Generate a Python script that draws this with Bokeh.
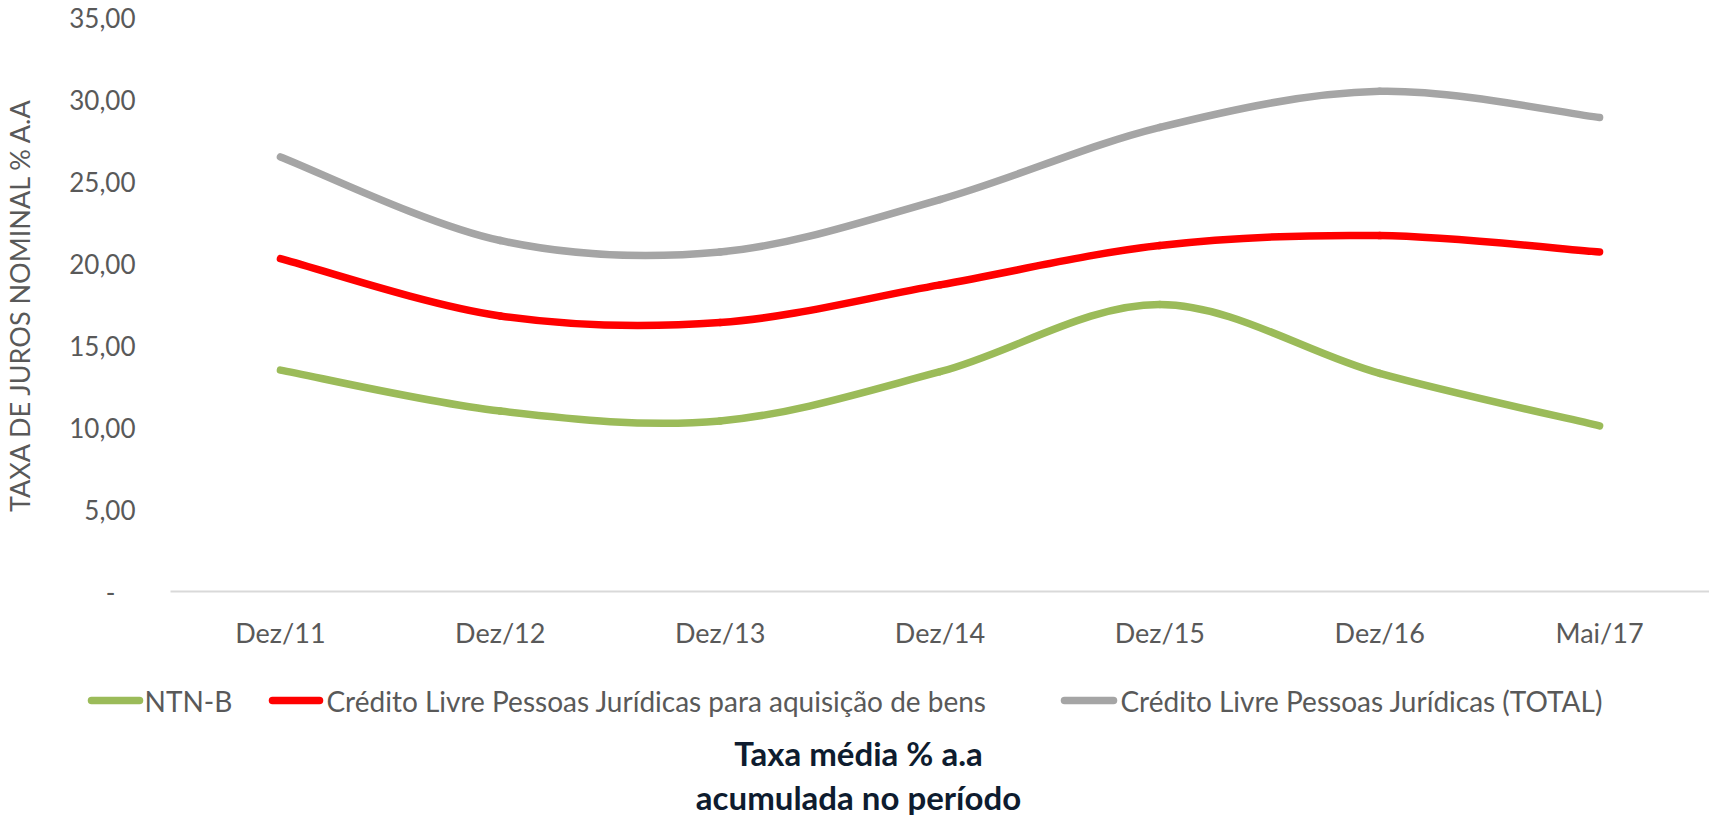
from bokeh.plotting import figure
from bokeh.layouts import column
from bokeh.models import Range1d, FixedTicker, ColumnDataSource
from bokeh.core.properties import value
from bokeh.embed import file_html
from bokeh.resources import INLINE

# ---------------- data ----------------
categories = ["Dez/11", "Dez/12", "Dez/13", "Dez/14", "Dez/15", "Dez/16", "Mai/17"]
ntnb = [13.5, 11.0, 10.4, 13.4, 17.5, 13.3, 10.1]
credito_bens = [20.3, 16.8, 16.4, 18.7, 21.1, 21.7, 20.7]
credito_total = [26.5, 21.4, 20.7, 23.9, 28.3, 30.5, 28.9]
series_names = ["NTN-B",
                "Crédito Livre Pessoas Jurídicas para aquisição de bens",
                "Crédito Livre Pessoas Jurídicas (TOTAL)"]
y_ticks = [0, 5, 10, 15, 20, 25, 30, 35]
y_tick_labels = ["-\u00a0\u00a0\u00a0", "5,00", "10,00", "15,00", "20,00", "25,00", "30,00", "35,00"]
y_axis_title = "TAXA DE JUROS NOMINAL % A.A"
chart_title = ["Taxa média % a.a", "acumulada no período"]

# ---------------- styles ----------------
colors = ["#9BBB59", "#FF0000", "#A5A5A5"]
FONT = "Lato"
TXT = "#595959"
W = 1709
H1 = 651
LEFT, TOP, BOTTOM = 169, 17, 60

p = figure(width=W, height=H1, output_backend="svg", toolbar_location=None,
           x_range=Range1d(-0.5, len(categories) - 0.5), y_range=Range1d(0, 35),
           min_border_left=LEFT, min_border_right=0, min_border_top=TOP,
           min_border_bottom=BOTTOM)
p.frame_align = False
p.outline_line_color = None
p.xgrid.visible = False
p.ygrid.visible = False

# x axis
xa = p.xaxis[0]
xa.ticker = FixedTicker(ticks=list(range(len(categories))))
xa.major_label_overrides = {i: c for i, c in enumerate(categories)}
xa.major_tick_line_color = None
xa.minor_tick_line_color = None
xa.major_tick_out = 0
xa.axis_line_color = "#D9D9D9"
xa.axis_line_width = 2
xa.major_label_standoff = 24
xa.major_label_text_font = FONT
xa.major_label_text_font_size = "27px"
xa.major_label_text_color = TXT

# y axis
ya = p.yaxis[0]
ya.ticker = FixedTicker(ticks=y_ticks)
ya.major_label_overrides = {t: l for t, l in zip(y_ticks, y_tick_labels)}
ya.axis_line_color = None
ya.major_tick_line_color = None
ya.minor_tick_line_color = None
ya.major_tick_out = 0
ya.major_label_standoff = 35
ya.major_label_text_font = FONT
ya.major_label_text_font_size = "26px"
ya.major_label_text_color = TXT
ya.axis_label = y_axis_title
ya.axis_label_text_font = FONT
ya.axis_label_text_font_size = "27px"
ya.axis_label_text_font_style = "normal"
ya.axis_label_text_color = TXT
ya.axis_label_standoff = 30


# smoothed lines (bezier segments through the data points, Excel-like smoothing)
def bezier_source(vals):
    n = len(vals)
    xs = list(range(n))
    d = dict(x0=[], y0=[], x1=[], y1=[], cx0=[], cy0=[], cx1=[], cy1=[])
    for i in range(n - 1):
        im1 = max(i - 1, 0)
        ip2 = min(i + 2, n - 1)
        d["x0"].append(xs[i]); d["y0"].append(vals[i])
        d["x1"].append(xs[i + 1]); d["y1"].append(vals[i + 1])
        d["cx0"].append(xs[i] + (xs[i + 1] - xs[im1]) / 6.0)
        d["cy0"].append(vals[i] + (vals[i + 1] - vals[im1]) / 6.0)
        d["cx1"].append(xs[i + 1] - (xs[ip2] - xs[i]) / 6.0)
        d["cy1"].append(vals[i + 1] - (vals[ip2] - vals[i]) / 6.0)
    return ColumnDataSource(d)


for vals, col in zip([ntnb, credito_bens, credito_total], colors):
    p.bezier(x0="x0", y0="y0", x1="x1", y1="y1", cx0="cx0", cy0="cy0",
             cx1="cx1", cy1="cy1", source=bezier_source(vals),
             line_color=col, line_width=7.5, line_cap="round")

# ---------------- legend + title panel ----------------
H2 = 165
p2 = figure(width=W, height=H2, output_backend="svg", toolbar_location=None,
            x_range=Range1d(0, W), y_range=Range1d(0, H2),
            x_axis_type=None, y_axis_type=None,
            min_border_left=0, min_border_right=0, min_border_top=0,
            min_border_bottom=0)
p2.frame_align = False
p2.outline_line_color = None
p2.xgrid.visible = False
p2.ygrid.visible = False

leg_glyph_x0 = [91, 272, 1064]
leg_glyph_x1 = [139, 319, 1113]
leg_text_x = [144, 326, 1120]
leg_y = H2 - 49
p2.segment(x0=leg_glyph_x0, x1=leg_glyph_x1, y0=[leg_y] * 3, y1=[leg_y] * 3,
           line_color=colors, line_width=7.5, line_cap="round")
src_leg = ColumnDataSource(dict(x=leg_text_x, y=[leg_y] * 3, t=series_names))
p2.text(x="x", y="y", text="t", source=src_leg, text_font=value(FONT),
        text_font_size="28px", text_color=TXT, text_baseline="middle",
        text_align="left")

src_title = ColumnDataSource(dict(x=[858, 858], y=[H2 - 101, H2 - 145], t=chart_title))
p2.text(x="x", y="y", text="t", source=src_title, text_font=value(FONT),
        text_font_size="33px", text_font_style="bold", text_color="#0E1C2F",
        text_baseline="middle", text_align="center")

open("out.html", "w").write(file_html(column(p, p2, spacing=0), INLINE))
